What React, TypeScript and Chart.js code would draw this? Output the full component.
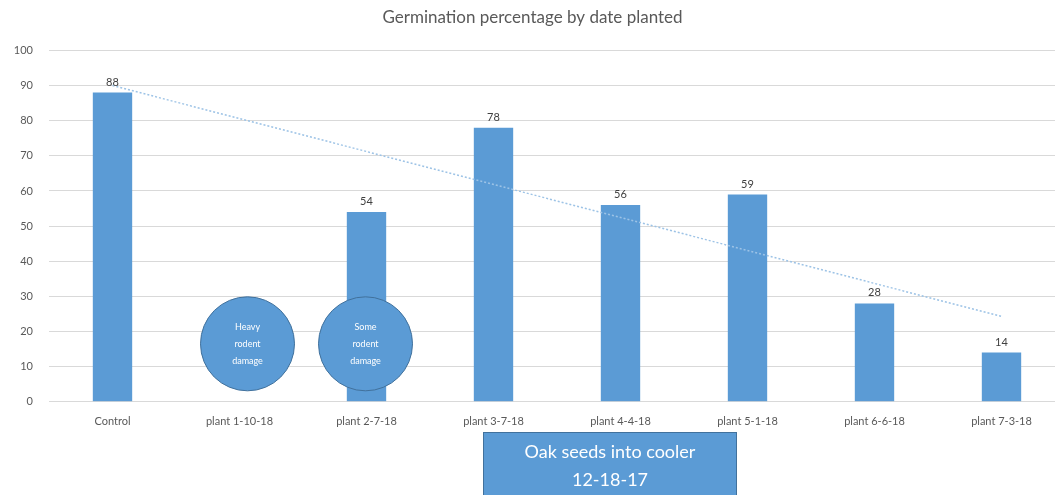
import React, { useEffect, useRef } from "react";
import { Chart, registerables } from "chart.js";

Chart.register(...registerables);

const categories = [
  "Control",
  "plant 1-10-18",
  "plant 2-7-18",
  "plant 3-7-18",
  "plant 4-4-18",
  "plant 5-1-18",
  "plant 6-6-18",
  "plant 7-3-18",
];
const germination: (number | null)[] = [88, null, 54, 78, 56, 59, 28, 14];
const trend: (number | null)[] = [90, null, null, null, null, null, null, 24.3];
const yTicks = [0, 10, 20, 30, 40, 50, 60, 70, 80, 90, 100];
const titleText = "Germination percentage by date planted";
const circleNotes = [
  { category: 1, value: 16.5, lines: ["Heavy", "rodent", "damage"], dx: 8 },
  { category: 2, value: 16.5, lines: ["Some", "rodent", "damage"], dx: -1 },
];
const boxLines = ["Oak seeds into cooler", "12-18-17"];

const FONT = "Lato, 'Open Sans', sans-serif";
const BLUE = "#5B9BD5";
const BLUE_EDGE = "#41719C";

const annotationPlugin = {
  id: "annotations",
  afterDatasetsDraw(chart: any) {
    const ctx = chart.ctx;
    const meta = chart.getDatasetMeta(0);
    const xs = chart.scales.x;
    const ys = chart.scales.y;
    ctx.save();
    // data labels
    ctx.fillStyle = "#404040";
    ctx.font = `11px ${FONT}`;
    ctx.textAlign = "center";
    ctx.textBaseline = "bottom";
    meta.data.forEach((bar: any, i: number) => {
      const v = germination[i];
      if (v === null || v === undefined) return;
      ctx.fillText(String(v), bar.x, bar.y - 5);
    });
    // circles
    circleNotes.forEach((c) => {
      const cx = xs.getPixelForValue(c.category) + c.dx;
      const cy = ys.getPixelForValue(c.value);
      ctx.beginPath();
      ctx.arc(cx, cy, 47, 0, Math.PI * 2);
      ctx.fillStyle = BLUE;
      ctx.fill();
      ctx.lineWidth = 1;
      ctx.strokeStyle = BLUE_EDGE;
      ctx.stroke();
      ctx.fillStyle = "#ffffff";
      ctx.font = `9px ${FONT}`;
      ctx.textBaseline = "middle";
      c.lines.forEach((t, k) => {
        ctx.fillText(t, cx, cy + (k - 1) * 17);
      });
    });
    // bottom box
    const bx = 483;
    ctx.fillStyle = BLUE;
    ctx.fillRect(bx, 432, 254, 70);
    ctx.strokeStyle = BLUE_EDGE;
    ctx.lineWidth = 1;
    ctx.strokeRect(bx + 0.5, 432.5, 253, 70);
    ctx.fillStyle = "#ffffff";
    ctx.font = `18px ${FONT}`;
    ctx.textBaseline = "middle";
    ctx.fillText(boxLines[0], bx + 127, 452);
    ctx.fillText(boxLines[1], bx + 127, 480);
    ctx.restore();
  },
};

export default function App() {
  const ref = useRef<HTMLCanvasElement | null>(null);
  useEffect(() => {
    if (!ref.current) return;
    const chart = new Chart(ref.current, {
      type: "bar",
      data: {
        labels: categories,
        datasets: [
          {
            type: "bar",
            data: germination as any,
            backgroundColor: BLUE,
            borderWidth: 0,
            barPercentage: 0.31,
            categoryPercentage: 1,
            order: 2,
          },
          {
            type: "line",
            data: trend as any,
            borderColor: "#9DC3E6",
            borderWidth: 1.5,
            borderDash: [2, 2],
            pointRadius: 0,
            spanGaps: true,
            fill: false,
            order: 1,
          } as any,
        ],
      },
      options: {
        animation: false,
        responsive: false,
        layout: { padding: { left: 0, right: 10, top: 4, bottom: 54 } },
        plugins: {
          legend: { display: false },
          tooltip: { enabled: false },
          title: {
            display: true,
            text: titleText,
            color: "#595959",
            font: { family: FONT, size: 17, weight: "normal" as any },
            padding: { top: 3, bottom: 23 },
          },
        },
        scales: {
          x: {
            grid: { display: false, drawTicks: false },
            border: { display: true, color: "#d9d9d9", width: 1 },
            ticks: {
              color: "#595959",
              font: { family: FONT, size: 11 },
              padding: 13,
              maxRotation: 0,
              autoSkip: false,
            },
          },
          y: {
            min: 0,
            max: 100,
            afterBuildTicks: (s: any) => {
              s.ticks = yTicks.map((v) => ({ value: v }));
            },
            afterFit: (s: any) => {
              s.width = 49;
            },
            grid: { color: "#d9d9d9", drawTicks: false },
            border: { display: false },
            ticks: {
              color: "#595959",
              font: { family: FONT, size: 11 },
              padding: 16,
            },
          },
        },
      },
      plugins: [annotationPlugin],
    });
    return () => chart.destroy();
  }, []);
  return (
    <div
      style={{
        position: "fixed",
        left: 0,
        top: 0,
        width: 1055,
        height: 495,
        overflow: "hidden",
        background: "#fff",
      }}
    >
      <canvas ref={ref} width={1075} height={495} style={{ display: "block" }} />
    </div>
  );
}
